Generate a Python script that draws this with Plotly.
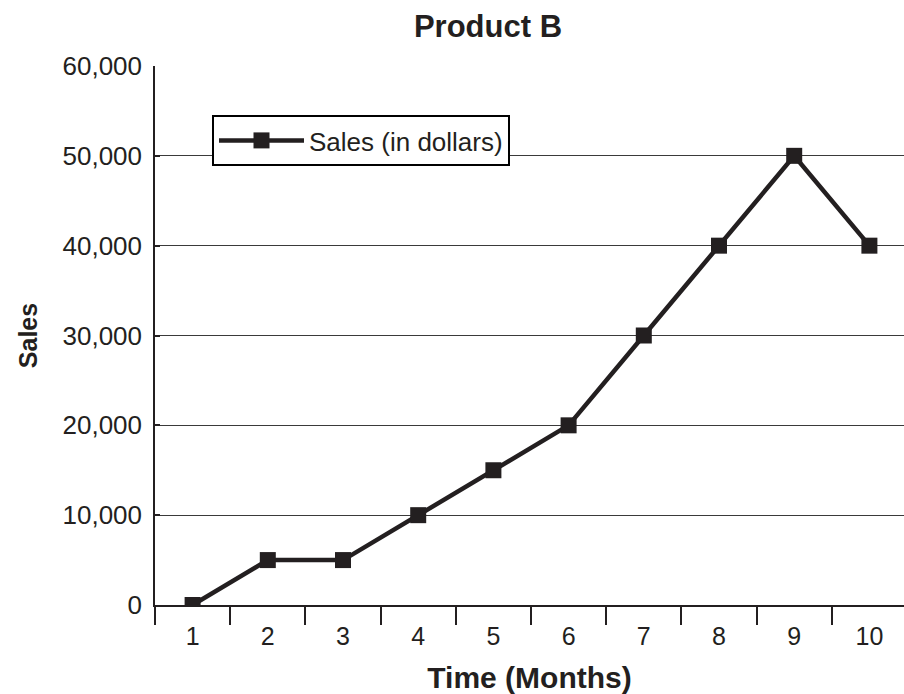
import plotly.graph_objects as go

# Monthly sales for Product B
months = [1, 2, 3, 4, 5, 6, 7, 8, 9, 10]
sales = [0, 5000, 5000, 10000, 15000, 20000, 30000, 40000, 50000, 40000]
y_ticks = [0, 10000, 20000, 30000, 40000, 50000, 60000]
y_tick_text = ["0", "10,000", "20,000", "30,000", "40,000", "50,000", "60,000"]

ink = "#231f20"
font = "Liberation Sans, Arial, sans-serif"

fig = go.Figure()
fig.add_trace(go.Scatter(
    x=months, y=sales, mode="lines+markers", name="Sales (in dollars)",
    line=dict(color=ink, width=4.5),
    marker=dict(symbol="square", size=16, color=ink),
))

fig.update_layout(
    width=904, height=694,
    margin=dict(l=155, r=0, t=66, b=89),
    paper_bgcolor="white", plot_bgcolor="white",
    font=dict(family=font, color=ink, size=26),
    title=dict(text="<b>Product B</b>", x=488 / 904, xref="container", xanchor="center",
               y=1 - 26 / 694, yref="container", yanchor="middle",
               font=dict(size=31, color=ink)),
    showlegend=True,
    legend=dict(x=(212 - 155) / 749, y=(605 - 115) / 539, xanchor="left", yanchor="top",
                bordercolor="black", borderwidth=2, bgcolor="white",
                font=dict(size=26, color=ink), itemwidth=85,
                tracegroupgap=0),
)

fig.update_xaxes(
    range=[0.5, 0.5 + 749 / 75.2],
    tickvals=months, ticktext=[str(m) for m in months],
    ticks="", tickfont=dict(size=25, color=ink), ticklabelstandoff=8,
    showline=True, linecolor=ink, linewidth=1.5,
    showgrid=False, zeroline=False,
    minor=dict(tick0=0.5, dtick=1, ticks="outside", ticklen=18, tickwidth=1.5, tickcolor=ink),
    title=dict(text="<b>Time (Months)</b>", font=dict(size=30, color=ink), standoff=18),
)
fig.update_yaxes(
    range=[0, 60000],
    tickvals=y_ticks, ticktext=y_tick_text,
    ticks="inside", ticklen=5, tickcolor=ink, tickwidth=1.5,
    tickfont=dict(size=26, color=ink), ticklabelstandoff=6,
    showline=True, linecolor=ink, linewidth=1.5,
    showgrid=True, gridcolor="#3a3a3a", gridwidth=1.2,
    zeroline=False,
    title=dict(text="<b>Sales</b>", font=dict(size=25, color=ink), standoff=18),
)

fig.write_html("out.html")
